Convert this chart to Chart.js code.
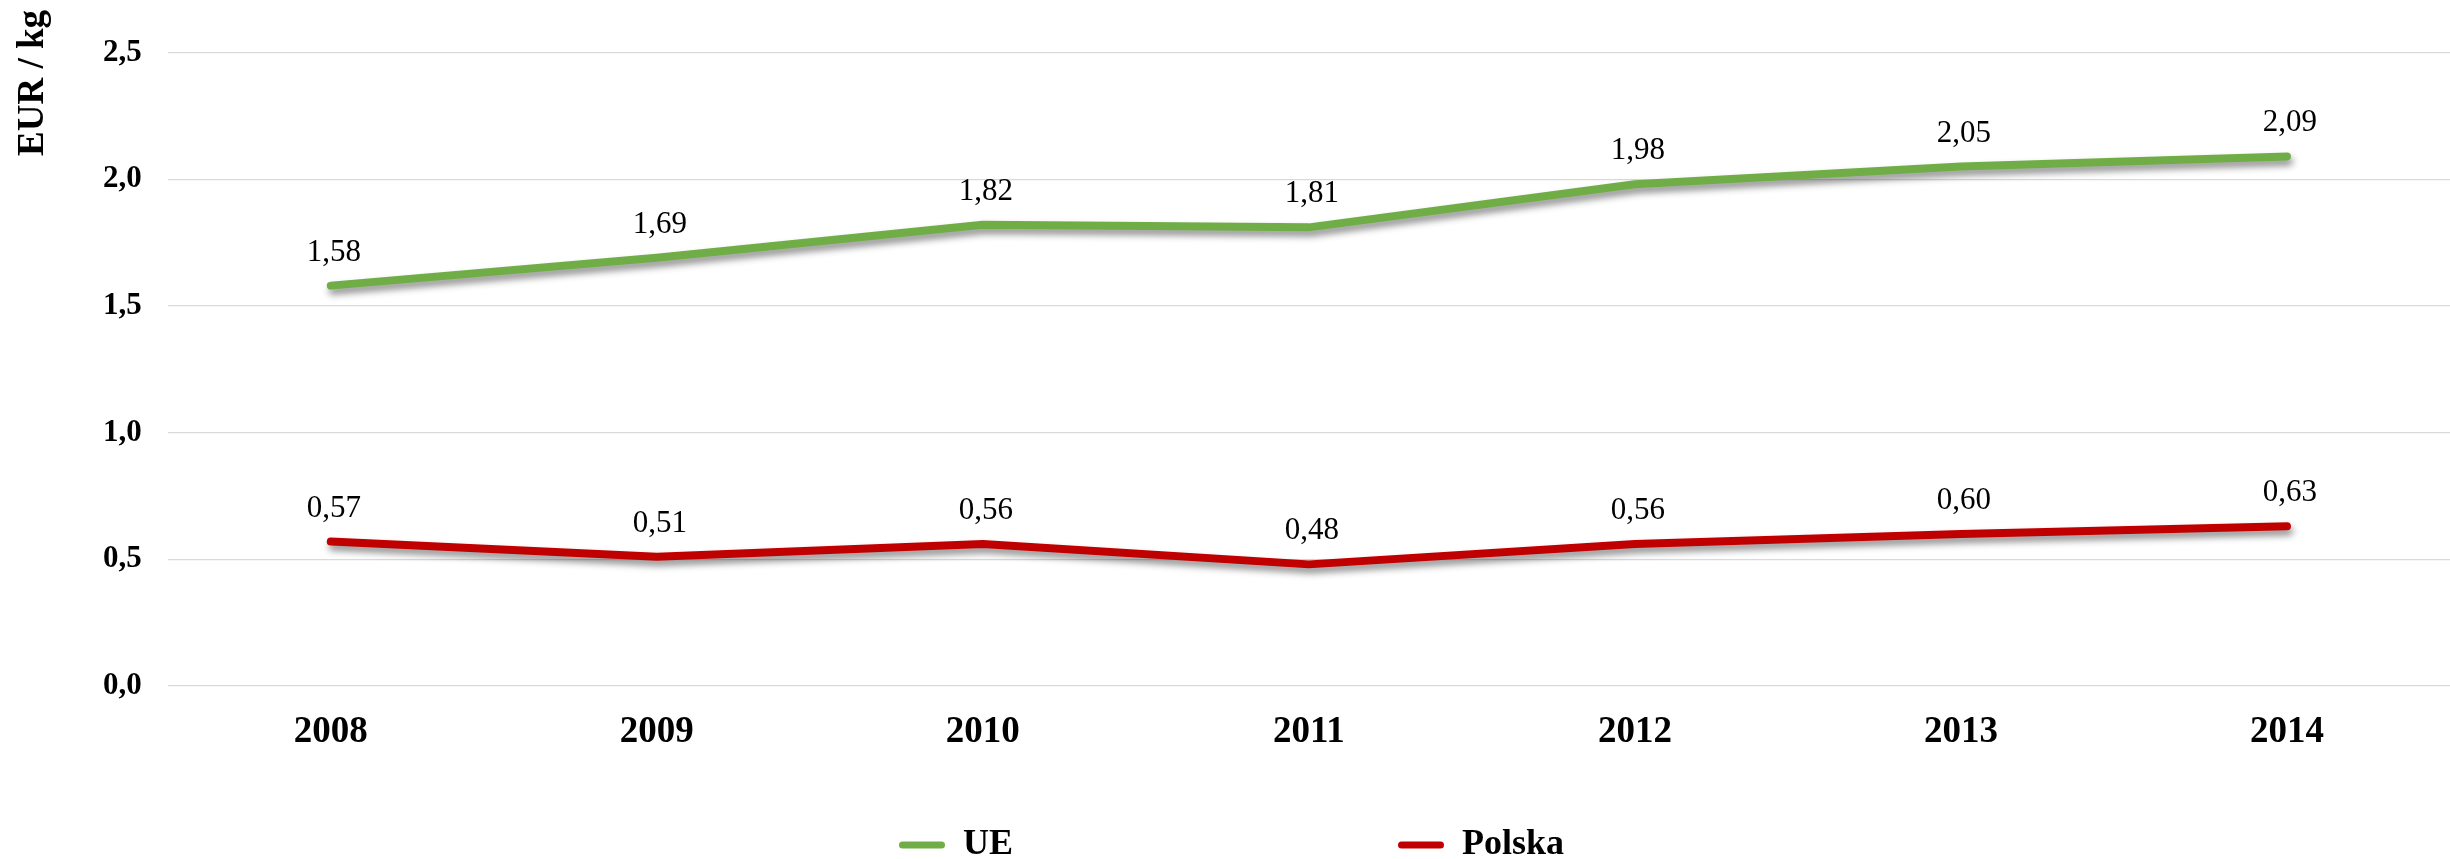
<!DOCTYPE html>
<html><head><meta charset="utf-8">
<script src="https://cdn.jsdelivr.net/npm/chart.js@4.4.1/dist/chart.umd.min.js"></script>
<style>html,body{margin:0;padding:0;background:#fff;}#wrap{width:2450px;height:859px;position:relative;}</style>
</head><body><div id="wrap"><canvas id="c" width="2450" height="859"></canvas></div>
<script>
const categories = ['2008','2009','2010','2011','2012','2013','2014'];
const ueValues = [1.58, 1.69, 1.82, 1.81, 1.98, 2.05, 2.09];
const polskaValues = [0.57, 0.51, 0.56, 0.48, 0.56, 0.60, 0.63];
const yTickLabels = ['0,0', '0,5', '1,0', '1,5', '2,0', '2,5'];
const seriesNames = ['UE', 'Polska'];
const seriesColors = ['#70AD47', '#C00000'];
const yAxisTitle = 'EUR / kg';
const SERIF = '"Liberation Serif", "Times New Roman", serif';

const shadowPlugin = {
  id: 'lineShadow',
  beforeDatasetDraw(chart) {
    const ctx = chart.ctx;
    ctx.save();
    ctx.shadowColor = 'rgba(0,0,0,0.45)';
    ctx.shadowBlur = 7;
    ctx.shadowOffsetX = 2;
    ctx.shadowOffsetY = 5;
  },
  afterDatasetDraw(chart) { chart.ctx.restore(); }
};

const valueLabels = {
  id: 'valueLabels',
  afterDatasetsDraw(chart) {
    const ctx = chart.ctx;
    ctx.save();
    ctx.font = '31px ' + SERIF;
    ctx.fillStyle = '#000';
    ctx.textAlign = 'center';
    ctx.textBaseline = 'alphabetic';
    chart.data.datasets.forEach((ds, di) => {
      const meta = chart.getDatasetMeta(di);
      meta.data.forEach((pt, i) => {
        const txt = ds.data[i].toFixed(2).replace('.', ',');
        ctx.fillText(txt, pt.x + 3, pt.y - 25);
      });
    });
    ctx.restore();
  }
};

const axisTitle = {
  id: 'axisTitle',
  afterDraw(chart) {
    const ctx = chart.ctx;
    ctx.save();
    ctx.font = 'bold 37px ' + SERIF;
    ctx.fillStyle = '#000';
    ctx.translate(43, 83);
    ctx.rotate(-Math.PI / 2);
    ctx.textAlign = 'center';
    ctx.textBaseline = 'alphabetic';
    ctx.fillText(yAxisTitle, 0, 0);
    ctx.restore();
  }
};

const legendPlacer = {
  id: 'legendPlacer',
  afterLayout(chart) {
    const lg = chart.legend;
    if (!lg) return;
    const P = lg.options.labels.padding;
    const w = lg.width;
    lg.left = 899 - P; lg.right = lg.left + w;
    lg.top = 845 - 18 - P; lg.bottom = chart.height;
    lg.height = lg.bottom - lg.top;
  }
};

new Chart(document.getElementById('c'), {
  type: 'line',
  data: {
    labels: categories,
    datasets: [
      { label: seriesNames[0], data: ueValues, borderColor: seriesColors[0], backgroundColor: seriesColors[0],
        borderWidth: 8, pointRadius: 0, pointHoverRadius: 0, tension: 0, borderCapStyle: 'round', borderJoinStyle: 'round', fill: false },
      { label: seriesNames[1], data: polskaValues, borderColor: seriesColors[1], backgroundColor: seriesColors[1],
        borderWidth: 8, pointRadius: 0, pointHoverRadius: 0, tension: 0, borderCapStyle: 'round', borderJoinStyle: 'round', fill: false }
    ]
  },
  options: {
    responsive: false,
    animation: false,
    devicePixelRatio: 1,
    layout: { padding: { top: 52.5, left: 77, right: -10, bottom: -29 } },
    plugins: {
      tooltip: { enabled: false },
      legend: {
        display: true,
        position: 'bottom',
        align: 'start',
        maxHeight: 109.6,
        labels: {
          color: '#000',
          font: { family: SERIF, size: 36, weight: 'bold' },
          boxWidth: 46,
          boxHeight: 7,
          padding: 385,
          generateLabels(chart) {
            return chart.data.datasets.map((ds, i) => ({
              text: ds.label,
              fillStyle: ds.borderColor,
              strokeStyle: ds.borderColor,
              lineWidth: 0,
              borderRadius: 3.5,
              fontColor: '#000',
              hidden: !chart.isDatasetVisible(i),
              datasetIndex: i
            }));
          }
        }
      }
    },
    scales: {
      x: {
        offset: true,
        grid: { display: false, drawTicks: false },
        border: { display: false },
        ticks: { color: '#000', font: { family: SERIF, size: 37, weight: 'bold' }, padding: 24, maxRotation: 0 }
      },
      y: {
        min: 0, max: 2.5,
        grid: { color: '#d9d9d9', lineWidth: 1.3, drawTicks: false },
        border: { display: false },
        ticks: {
          stepSize: 0.5,
          color: '#000',
          font: { family: SERIF, size: 31, weight: 'bold' },
          padding: 26,
          callback: (v, i) => yTickLabels[i]
        }
      }
    }
  },
  plugins: [shadowPlugin, valueLabels, axisTitle, legendPlacer]
});
</script></body></html>
